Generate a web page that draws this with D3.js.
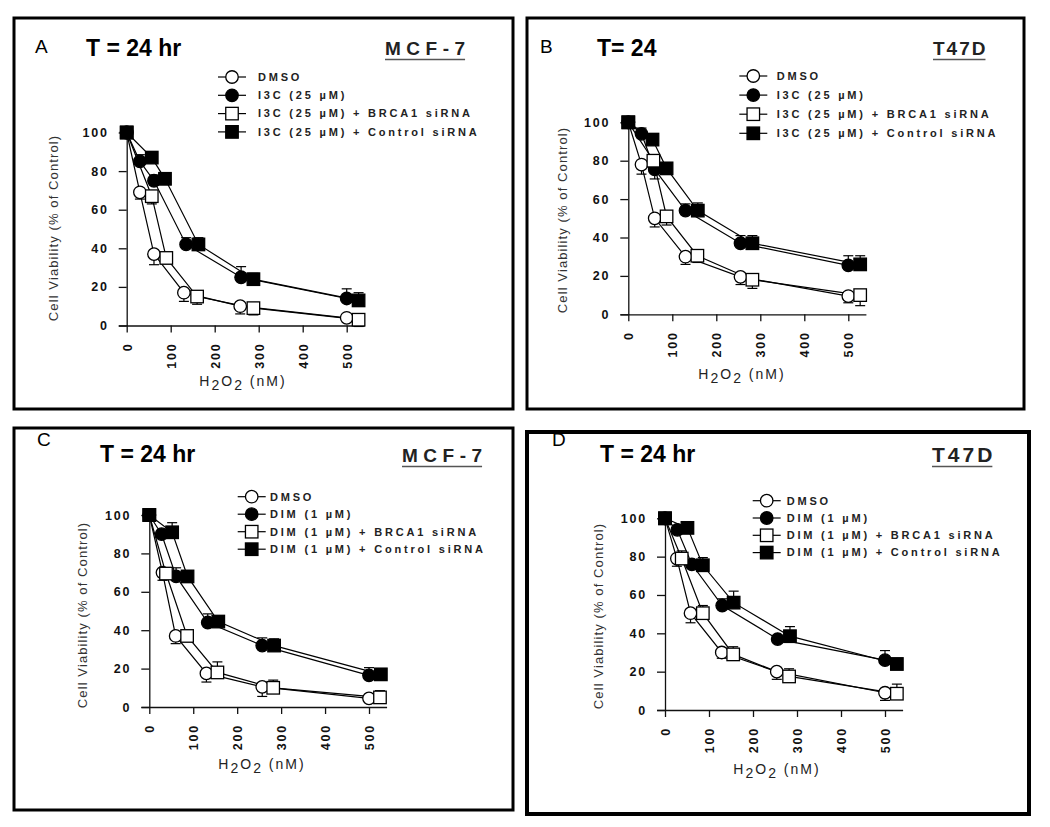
<!DOCTYPE html>
<html>
<head>
<meta charset="utf-8">
<script src="https://cdn.jsdelivr.net/npm/d3@7"></script>
<style>
  body { margin: 0; background: #fff; }
  svg { display: block; font-family: "Liberation Sans", Arial, sans-serif; }
  .axis text { font-size: 12.5px; font-weight: bold; letter-spacing: 1.8px; fill: #111; }
  .axis path, .axis line { stroke: #111; stroke-width: 1.3px; }
</style>
</head>
<body>
<svg id="fig" width="1050" height="827"></svg>
<script>
// values: [x (nM), viability %, error (+ up / - down)]
const aDmso = [[0,100,0],[30,69,-3.5],[62,37,-5.5],[130,17,-4.5],[258,10,-4],[500,4,0]];
const aI3c  = [[0,100,0],[30,85,3.5],[62,75,3],[135,42,3.5],[260,25,5.5],[500,14,5]];
const aBrca = [[0,100,0],[57,67,-4],[90,35,-3],[160,15,-4],[288,9,-3.5],[527,3,-3.5]];
const aCtrl = [[0,100,0],[57,87,3],[87,76,2],[163,42,3.5],[288,24,3],[527,13,4]];

const bDmso = [[0,100,0],[30,78,-5],[60,50,-4.5],[130,30,-4],[255,19.5,-4],[500,9.5,-3.5]];
const bI3c  = [[0,100,0],[30,94,3],[60,75.5,-5],[130,54,3.5],[255,37,4],[500,25.5,5]];
const bBrca = [[0,100,0],[57,80,3],[87,51,-4.5],[157,30.5,-3.5],[282,18,-4.5],[527,10,-5.5]];
const bCtrl = [[0,100,0],[55,91,3],[87,76,3],[158,54,4],[282,37,4],[527,26,4.5]];

const cDmso = [[0,100,0],[30,70,-4],[60,37,-4],[130,17.5,-4.5],[257,10.5,-5],[500,4.5,0]];
const cDim  = [[0,100,0],[28,90,1],[61,68,4.5],[133,44,4.5],[257,32,4],[500,16.5,4]];
const cBrca = [[0,100,0],[38,69.5,-3],[86,37,1],[155,18,5.5],[282,10,4],[525,5,3.5]];
const cCtrl = [[0,100,0],[52,91,5],[87,68,3],[157,44.5,2.5],[284,32,3.5],[527,17,3]];

const dDmso = [[0,100,0],[27,79,-4],[58,50.5,-5],[129,30,-3],[254,20,-4],[500,9,-4]];
const dDim  = [[0,100,0],[28,94,1],[61,76,-2],[130,54.5,3.5],[256,37,1.5],[500,26,5]];
const dBrca = [[0,100,0],[38,79,4],[86,50.5,4],[155,29,4],[282,17.5,4],[527,8.5,5]];
const dCtrl = [[0,100,0],[51,95,2],[86,75.5,4],[156,56,6],[284,38.5,5],[527,24,2.5]];

const legendI3C = ['DMSO', 'I3C (25 \u00b5M)', 'I3C (25 \u00b5M) + BRCA1 siRNA', 'I3C (25 \u00b5M) + Control siRNA'];
const legendDIM = ['DMSO', 'DIM (1 \u00b5M)', 'DIM (1 \u00b5M) + BRCA1 siRNA', 'DIM (1 \u00b5M) + Control siRNA'];

const xTicks = [0, 100, 200, 300, 400, 500];
const yTicks = [0, 20, 40, 60, 80, 100];
const yTitle = 'Cell Viability (% of Control)';

// marker style per series: open circle, filled circle, open square, filled square
const markers = [
    {shape: 'circle', fill: '#fff'},
    {shape: 'circle', fill: '#000'},
    {shape: 'square', fill: '#fff'},
    {shape: 'square', fill: '#000'}
];

const panels = [
    {label: 'A', title: 'T = 24 hr', cell: 'MCF-7', series: [aDmso, aI3c, aBrca, aCtrl], legend: legendI3C,
     box: [14, 18, 513, 409], border: 3, labelXY: [35, 53], titleXY: [86, 56], cellXY: [385, 55], cellSize: 19, cellSpacing: 5.5,
     plot: {x0: 126.7, x500: 346.7, y0: 325.5, y100: 132.5}, yTitleXY: [58, 228], xTitleXY: [243, 386],
     leg: {mx: 232, tx: 258, y0: 77, dy: 18.3}},
    {label: 'B', title: 'T= 24', cell: 'T47D', series: [bDmso, bI3c, bBrca, bCtrl], legend: legendI3C,
     box: [527, 18, 1024, 409], border: 3, labelXY: [540, 53], titleXY: [597, 56], cellXY: [933, 55], cellSize: 19, cellSpacing: 2,
     plot: {x0: 628.3, x500: 848.3, y0: 314.3, y100: 122.3}, yTitleXY: [567, 220], xTitleXY: [742, 379],
     leg: {mx: 753.3, tx: 776.7, y0: 76, dy: 19.1}},
    {label: 'C', title: 'T = 24 hr', cell: 'MCF-7', series: [cDmso, cDim, cBrca, cCtrl], legend: legendDIM,
     box: [14, 428, 513, 810], border: 3, labelXY: [37, 446], titleXY: [100, 462], cellXY: [402, 462], cellSize: 19, cellSpacing: 5.5,
     plot: {x0: 149.3, x500: 369, y0: 707, y100: 515}, yTitleXY: [87, 615], xTitleXY: [262, 769],
     leg: {mx: 251.7, tx: 270, y0: 496.7, dy: 17.5}},
    {label: 'D', title: 'T = 24 hr', cell: 'T47D', series: [dDmso, dDim, dBrca, dCtrl], legend: legendDIM,
     box: [527, 432, 1029, 814], border: 4, labelXY: [552, 446], titleXY: [600, 462], cellXY: [932, 462], cellSize: 21, cellSpacing: 3,
     plot: {x0: 665, x500: 885, y0: 710, y100: 518.3}, yTitleXY: [603, 616], xTitleXY: [777, 774],
     leg: {mx: 766.7, tx: 786.7, y0: 500.7, dy: 17.3}}
];

const svg = d3.select('#fig');

function drawMarker(g, m, cx, cy, size) {
    if (m.shape === 'circle') {
        g.append('circle')
            .attr('cx', cx).attr('cy', cy).attr('r', size / 2)
            .attr('fill', m.fill).attr('stroke', '#000').attr('stroke-width', 1.3);
    } else {
        g.append('rect')
            .attr('x', cx - size / 2).attr('y', cy - size / 2)
            .attr('width', size).attr('height', size)
            .attr('fill', m.fill).attr('stroke', '#000').attr('stroke-width', 1.3);
    }
}

panels.forEach(p => {
    const g = svg.append('g');
    const [bx1, by1, bx2, by2] = p.box;

    g.append('rect')
        .attr('x', bx1).attr('y', by1)
        .attr('width', bx2 - bx1).attr('height', by2 - by1)
        .attr('fill', '#fff').attr('stroke', '#000').attr('stroke-width', p.border);

    // header
    g.append('text')
        .attr('x', p.labelXY[0]).attr('y', p.labelXY[1])
        .style('font-size', '19px').text(p.label);
    g.append('text')
        .attr('x', p.titleXY[0]).attr('y', p.titleXY[1])
        .style('font-size', '23px').style('font-weight', 'bold').text(p.title);
    let cellText = g.append('text')
        .attr('x', p.cellXY[0]).attr('y', p.cellXY[1])
        .style('font-size', p.cellSize + 'px').style('font-weight', 'bold')
        .style('letter-spacing', p.cellSpacing + 'px')
        .style('fill', '#222')
        .text(p.cell);
    let cellW = cellText.node().getComputedTextLength() - p.cellSpacing;
    g.append('line')
        .attr('x1', p.cellXY[0]).attr('x2', p.cellXY[0] + cellW)
        .attr('y1', p.cellXY[1] + 4.5).attr('y2', p.cellXY[1] + 4.5)
        .attr('stroke', '#555').attr('stroke-width', 1.5);

    // scales
    let xScale = d3.scaleLinear().domain([0, 500]).range([p.plot.x0, p.plot.x500]);
    let yScale = d3.scaleLinear().domain([0, 100]).range([p.plot.y0, p.plot.y100]);
    let xAxisScale = xScale.copy().domain([-19, 540]).range([xScale(-19), xScale(540)]);

    let xAxis = g.append('g')
        .attr('class', 'axis')
        .attr('transform', `translate(0, ${p.plot.y0})`)
        .call(d3.axisBottom(xAxisScale).tickValues(xTicks).tickSize(7).tickSizeOuter(0));
    xAxis.selectAll('.tick text')
        .attr('y', 0).attr('dy', '0.35em')
        .attr('transform', 'translate(0, 17) rotate(-90)')
        .style('text-anchor', 'end');

    g.append('g')
        .attr('class', 'axis')
        .attr('transform', `translate(${p.plot.x0}, 0)`)
        .call(d3.axisLeft(yScale).tickValues(yTicks).tickSize(8).tickPadding(10).tickSizeOuter(0));

    // axis titles
    g.append('text')
        .attr('transform', `translate(${p.yTitleXY[0]}, ${p.yTitleXY[1]}) rotate(-90)`)
        .attr('text-anchor', 'middle')
        .style('font-size', '13px').style('letter-spacing', '1.1px').style('fill', '#333')
        .text(yTitle);
    let xt = g.append('text')
        .attr('x', p.xTitleXY[0]).attr('y', p.xTitleXY[1])
        .attr('text-anchor', 'middle')
        .style('font-size', '14px').style('letter-spacing', '2px').style('fill', '#222');
    xt.append('tspan').text('H');
    xt.append('tspan').attr('dy', 4).text('2');
    xt.append('tspan').attr('dy', -4).text('O');
    xt.append('tspan').attr('dy', 4).text('2');
    xt.append('tspan').attr('dy', -4).text(' (nM)');

    // series: lines, error bars, markers
    let line = d3.line().x(d => xScale(d[0])).y(d => yScale(d[1]));
    p.series.forEach(s => {
        g.append('path')
            .datum(s)
            .attr('d', line)
            .attr('fill', 'none').attr('stroke', '#000').attr('stroke-width', 1.2);
    });
    p.series.forEach(s => {
        s.filter(d => d[2] !== 0).forEach(d => {
            let cx = xScale(d[0]);
            let yEnd = yScale(d[1] + d[2]);
            g.append('line')
                .attr('x1', cx).attr('x2', cx)
                .attr('y1', yScale(d[1])).attr('y2', yEnd)
                .attr('stroke', '#000').attr('stroke-width', 1.2);
            g.append('line')
                .attr('x1', cx - 5).attr('x2', cx + 5)
                .attr('y1', yEnd).attr('y2', yEnd)
                .attr('stroke', '#000').attr('stroke-width', 1.2);
        });
    });
    p.series.forEach((s, i) => {
        s.forEach(d => drawMarker(g, markers[i], xScale(d[0]), yScale(d[1]), 12.5));
    });

    // legend
    p.legend.forEach((name, i) => {
        let y = p.leg.y0 + i * p.leg.dy;
        g.append('line')
            .attr('x1', p.leg.mx - 14).attr('x2', p.leg.mx + 14)
            .attr('y1', y).attr('y2', y)
            .attr('stroke', '#000').attr('stroke-width', 1.2);
        drawMarker(g, markers[i], p.leg.mx, y, 12.5);
        g.append('text')
            .attr('x', p.leg.tx).attr('y', y).attr('dy', '0.35em')
            .style('font-size', '11px').style('font-weight', 'bold')
            .style('letter-spacing', '2.8px').style('fill', '#222')
            .text(name);
    });
});
</script>
</body>
</html>
